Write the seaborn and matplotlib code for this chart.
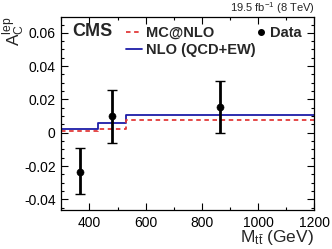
import numpy as np
import pandas as pd
import matplotlib
matplotlib.use("Agg")
import matplotlib.pyplot as plt
from matplotlib.lines import Line2D
from matplotlib.ticker import MultipleLocator
import seaborn as sns

# ---- data ----
bin_edges = [300, 430, 530, 1200]
mcatnlo = [0.0012, 0.0020, 0.0078]
nlo_qcd_ew = [0.0024, 0.0058, 0.0109]
data_x = [367, 482, 865]
data_y = [-0.0234, 0.0101, 0.0154]
data_err_up = [0.0144, 0.0158, 0.0158]
data_err_dn = [0.0136, 0.0165, 0.0158]

sns.set_theme(style="ticks")
plt.rcParams['font.family'] = ['Liberation Sans', 'DejaVu Sans']
plt.rcParams['mathtext.fontset'] = 'custom'
plt.rcParams['mathtext.rm'] = 'Liberation Sans'
plt.rcParams['mathtext.it'] = 'Liberation Sans'
plt.rcParams['mathtext.bf'] = 'Liberation Sans:bold'

fig = plt.figure(figsize=(3.32, 2.49), dpi=100)
ax = fig.add_axes([0.1846, 0.1566, 0.947 - 0.1846, 0.9337 - 0.1566])

steps = pd.DataFrame({
    "x": bin_edges * 2,
    "y": mcatnlo + [mcatnlo[-1]] + nlo_qcd_ew + [nlo_qcd_ew[-1]],
    "model": ["MC@NLO"] * 4 + ["NLO (QCD+EW)"] * 4,
})
red = "#e23a3a"
blue = "#1c1ca8"
sns.lineplot(data=steps[steps.model == "NLO (QCD+EW)"], x="x", y="y",
             drawstyle="steps-post", color=blue, lw=1.3, ax=ax,
             legend=False, estimator=None)
sns.lineplot(data=steps[steps.model == "MC@NLO"], x="x", y="y",
             drawstyle="steps-post", color=red, lw=1.3, ax=ax,
             legend=False, estimator=None, linestyle=(0, (2.5, 2)))

ax.errorbar(data_x, data_y, yerr=[data_err_dn, data_err_up], fmt="none",
            ecolor="black", elinewidth=2.0, capsize=3.5, capthick=1.0, zorder=4)
sns.scatterplot(x=data_x, y=data_y, color="black", s=26, edgecolor="black",
                ax=ax, zorder=5, legend=False)

ax.set_xlim(300, 1200)
ax.set_ylim(-0.0464, 0.0698)
ax.xaxis.set_major_locator(MultipleLocator(200))
ax.xaxis.set_minor_locator(MultipleLocator(100))
ax.yaxis.set_major_locator(MultipleLocator(0.02))
ax.yaxis.set_minor_locator(MultipleLocator(0.005))
ax.yaxis.set_major_formatter(matplotlib.ticker.FuncFormatter(
    lambda v, p: "0" if abs(v) < 1e-9 else f"{v:.2f}"))
ax.tick_params(which="both", direction="in", top=True, right=True,
               labelsize=10, width=0.8, colors="black")
ax.tick_params(which="major", length=5, pad=4)
ax.tick_params(which="minor", length=2.5)
for s in ax.spines.values():
    s.set_linewidth(0.9)
    s.set_color("black")

ax.set_xlabel(r"$\mathrm{M_{t\bar{t}}}$ (GeV)", fontsize=12.5, loc="right", labelpad=-1)
ax.set_ylabel("")
fig.text(14 / 332, 1 - 31 / 249, r"$\mathrm{A_C^{lep}}$", fontsize=12.5,
         rotation=90, ha="center", va="center")

ax.text(1.0, 1.025, r"19.5 fb$^{-1}$ (8 TeV)", transform=ax.transAxes,
        ha="right", va="baseline", fontsize=8)
ax.text(0.045, 0.925, "CMS", transform=ax.transAxes, ha="left", va="center",
        fontsize=13, fontweight="bold")

h1 = Line2D([], [], color=red, lw=1.3, linestyle=(0, (2.5, 2)))
h2 = Line2D([], [], color=blue, lw=1.3)
leg1 = ax.legend([h1, h2], ["MC@NLO", "NLO (QCD+EW)"], loc="upper left",
                 bbox_to_anchor=(0.205, 1.02), frameon=False, handlelength=1.1,
                 handletextpad=0.25, labelspacing=0.2,
                 prop={"family": "Liberation Sans", "weight": "bold", "size": 10.5})
ax.add_artist(leg1)
h3 = Line2D([], [], color="black", marker="o", markersize=4, lw=0)
ax.legend([h3], ["Data"], loc="upper right", bbox_to_anchor=(1.0, 1.02),
          frameon=False, handlelength=0.6, handletextpad=0.3,
          prop={"family": "Liberation Sans", "weight": "bold", "size": 10.5})

fig.savefig("out.png", dpi=100)
